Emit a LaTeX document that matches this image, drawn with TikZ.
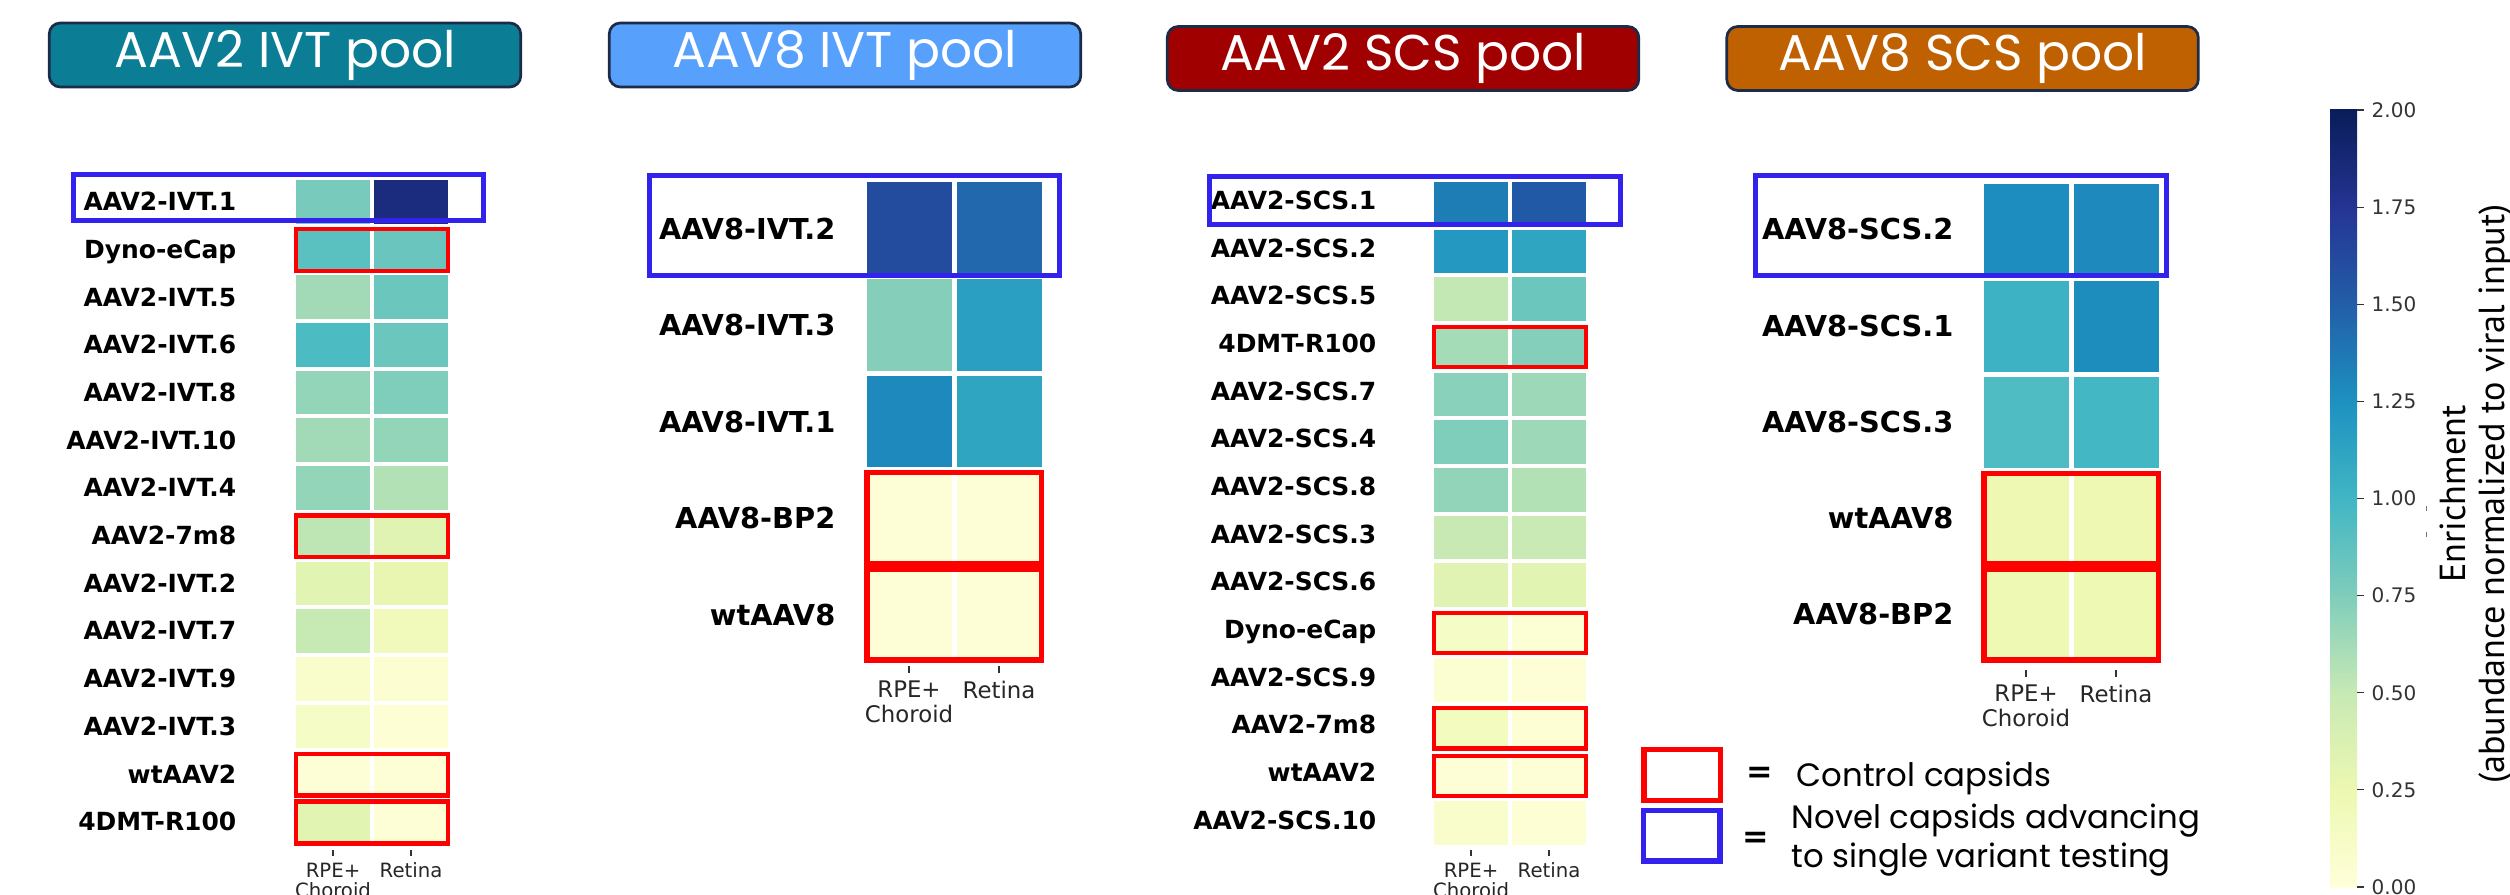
\documentclass[tikz,border=0pt]{standalone}
\usepackage{fontspec}
\newfontfamily\lblfont{DejaVu Sans}
\newfontfamily\titlefont{Poppins}
\newfontfamily\cbfont{PT Sans}

% YlGnBu, 0.00 to 2.00 in eight steps
\definecolor{yl0}{HTML}{FFFFD9}
\definecolor{yl1}{HTML}{EDF8B1}
\definecolor{yl2}{HTML}{C7E9B4}
\definecolor{yl3}{HTML}{7FCDBB}
\definecolor{yl4}{HTML}{41B6C4}
\definecolor{yl5}{HTML}{1D91C0}
\definecolor{yl6}{HTML}{225EA8}
\definecolor{yl7}{HTML}{253494}
\definecolor{yl8}{HTML}{081D58}

\definecolor{poolteal}{HTML}{0B7E95}
\definecolor{poolblue}{HTML}{57A0FB}
\definecolor{poolred}{HTML}{A00000}
\definecolor{poolorange}{HTML}{BF6100}
\definecolor{poolline}{HTML}{1C2B48}
\definecolor{ctrlred}{HTML}{FF0000}
\definecolor{novelblue}{HTML}{3322EE}

% heat colour for an enrichment value
\newcommand{\heatcol}[1]{%
  \pgfmathsetmacro\hv{min(max(#1,0),1.999)*4}%
  \pgfmathtruncatemacro\hlo{floor(\hv)}%
  \pgfmathtruncatemacro\hhi{\hlo+1}%
  \pgfmathtruncatemacro\hpc{round((\hv-\hlo)*100)}%
  \colorlet{heat}{yl\hhi!\hpc!yl\hlo}}

\begin{document}
\begin{tikzpicture}[x=0.1mm, y=-0.1mm,
  pool/.style={draw=poolline, line width=0.27mm, rounded corners=1.1mm,
    minimum width=47.15mm, minimum height=6.4mm, inner sep=0pt,
    text=white, text height=0.7em, text depth=0pt,
    font=\titlefont\fontsize{14.3}{16}\selectfont},
  cellsmall/.style={draw=white, line width=0.4mm},
  cellbig/.style={draw=white, line width=0.5mm},
  ctrlsmall/.style={draw=ctrlred, line width=0.45mm},
  ctrlbig/.style={draw=ctrlred, line width=0.55mm},
  novel/.style={draw=novelblue, line width=0.5mm},
  rowlab/.style={anchor=east, inner sep=0pt, text height=0.73em, text depth=0pt},
  labsmall/.style={rowlab, font=\lblfont\bfseries\fontsize{7.1}{8}\selectfont},
  labbig/.style={rowlab, font=\lblfont\bfseries\fontsize{8.2}{9}\selectfont},
  tickmark/.style={draw=black!80, line width=0.12mm},
  ticklab/.style={anchor=north, align=center, inner sep=0pt, text=black!85},
  ticksmall/.style={ticklab, font=\lblfont\fontsize{5.6}{5.8}\selectfont},
  tickbig/.style={ticklab, font=\lblfont\fontsize{6.5}{7.1}\selectfont},
  keybox/.style={minimum width=7.65mm, minimum height=5.05mm, inner sep=0pt, line width=0.55mm},
  keytext/.style={anchor=west, inner sep=0pt, align=left,
    font=\titlefont\fontsize{9.2}{11.1}\selectfont},
]
\useasboundingbox (0,0) rectangle (2510,895);

% pool headers
\node[pool, fill=poolteal]   (poolA) at (285,55)     {AAV2 IVT pool};
\node[pool, fill=poolblue]   (poolB) at (845,55)     {AAV8 IVT pool};
\node[pool, fill=poolred]    (poolC) at (1403,58.5)  {AAV2 SCS pool};
\node[pool, fill=poolorange] (poolD) at (1962.5,58.5) {AAV8 SCS pool};

% AAV2 IVT pool: 14 rows
\foreach \lab/\va/\vb [count=\rw from 0] in {
    AAV2-IVT.1/0.78/1.84, Dyno-eCap/0.895/0.84, AAV2-IVT.5/0.63/0.83,
    AAV2-IVT.6/0.95/0.83, AAV2-IVT.8/0.68/0.75, AAV2-IVT.10/0.63/0.68,
    AAV2-IVT.4/0.68/0.57, AAV2-7m8/0.53/0.335, AAV2-IVT.2/0.32/0.275,
    AAV2-IVT.7/0.5/0.19, AAV2-IVT.9/0.09/0.045, AAV2-IVT.3/0.12/0.03,
    wtAAV2/0.02/0.025, 4DMT-R100/0.32/0.02}
{
  \pgfmathsetmacro\ytop{178+\rw*47.7}
  \heatcol{\va}
  \filldraw[cellsmall, fill=heat] (294,\ytop) rectangle +(78,47.7);
  \heatcol{\vb}
  \filldraw[cellsmall, fill=heat] (372,\ytop) rectangle +(78,47.7);
  \node[labsmall] (ivt2-\rw) at (237,{\ytop+19.85}) {\lab};
}
\foreach \rw in {1,7,12,13}
  \draw[ctrlsmall] (296.2,{178+\rw*47.7+3.5}) rectangle (447.8,{178+(\rw+1)*47.7-2.5});
\draw[novel] (73,174.5) rectangle (483.5,220.5);
\draw[tickmark] (333,850) -- (333,856) (411,850) -- (411,856);
\node[ticksmall] (ivt2-rpe) at (333,862) {RPE+\\Choroid};
\node[ticksmall] (ivt2-ret) at (411,862) {Retina};

% AAV8 IVT pool: 5 rows
\foreach \lab/\va/\vb [count=\rw from 0] in {
    AAV8-IVT.2/1.61/1.45, AAV8-IVT.3/0.73/1.155, AAV8-IVT.1/1.29/1.115,
    AAV8-BP2/0.02/0.02, wtAAV8/0.02/0.02}
{
  \pgfmathsetmacro\ytop{180+\rw*96.6}
  \heatcol{\va}
  \filldraw[cellbig, fill=heat] (864,\ytop) rectangle +(90,96.6);
  \heatcol{\vb}
  \filldraw[cellbig, fill=heat] (954,\ytop) rectangle +(90,96.6);
  \node[labbig] (ivt8-\rw) at (836,{\ytop+46.3}) {\lab};
}
\foreach \rw in {3,4}
  \draw[ctrlbig] (866.75,{180+\rw*96.6+2.75}) rectangle (1041.25,{180+(\rw+1)*96.6-2.75});
\draw[novel] (649.5,175.5) rectangle (1059.5,275.5);
\draw[tickmark] (909,666) -- (909,673) (999,666) -- (999,673);
\node[tickbig] (ivt8-rpe) at (909,680) {RPE+\\Choroid};
\node[tickbig] (ivt8-ret) at (999,680) {Retina};

% AAV2 SCS pool: 14 rows
\foreach \lab/\va/\vb [count=\rw from 0] in {
    AAV2-SCS.1/1.35/1.53, AAV2-SCS.2/1.2/1.115, AAV2-SCS.5/0.51/0.83,
    4DMT-R100/0.62/0.735, AAV2-SCS.7/0.715/0.645, AAV2-SCS.4/0.75/0.645,
    AAV2-SCS.8/0.685/0.57, AAV2-SCS.3/0.495/0.49, AAV2-SCS.6/0.335/0.32,
    Dyno-eCap/0.12/0.035, AAV2-SCS.9/0.05/0.02, AAV2-7m8/0.16/0.03,
    wtAAV2/0.02/0.025, AAV2-SCS.10/0.08/0.03}
{
  \pgfmathsetmacro\ytop{180+\rw*47.65}
  \heatcol{\va}
  \filldraw[cellsmall, fill=heat] (1432,\ytop) rectangle +(78,47.65);
  \heatcol{\vb}
  \filldraw[cellsmall, fill=heat] (1510,\ytop) rectangle +(78,47.65);
  \node[labsmall] (scs2-\rw) at (1377,{\ytop+16.8}) {\lab};
}
\foreach \rw in {3,9,11,12}
  \draw[ctrlsmall] (1434.2,{180+\rw*47.65+4}) rectangle (1585.8,{180+(\rw+1)*47.65-3.5});
\draw[novel] (1209.5,176.5) rectangle (1620.5,224.5);
\draw[tickmark] (1471,850) -- (1471,856) (1549,850) -- (1549,856);
\node[ticksmall] (scs2-rpe) at (1471,862) {RPE+\\Choroid};
\node[ticksmall] (scs2-ret) at (1549,862) {Retina};

% AAV8 SCS pool: 5 rows
\foreach \lab/\va/\vb [count=\rw from 0] in {
    AAV8-SCS.2/1.275/1.29, AAV8-SCS.1/1.03/1.27, AAV8-SCS.3/0.945/0.99,
    wtAAV8/0.24/0.24, AAV8-BP2/0.23/0.23}
{
  \pgfmathsetmacro\ytop{182+\rw*96.2}
  \heatcol{\va}
  \filldraw[cellbig, fill=heat] (1981,\ytop) rectangle +(90,96.2);
  \heatcol{\vb}
  \filldraw[cellbig, fill=heat] (2071,\ytop) rectangle +(90,96.2);
  \node[labbig] (scs8-\rw) at (1954,{\ytop+45.1}) {\lab};
}
\foreach \rw in {3,4}
  \draw[ctrlbig] (1983.75,{182+\rw*96.2+2.75}) rectangle (2158.25,{182+(\rw+1)*96.2-2.75});
\draw[novel] (1755.5,175.5) rectangle (2166.5,275.5);
\draw[tickmark] (2026,670) -- (2026,677) (2116,670) -- (2116,677);
\node[tickbig] (scs8-rpe) at (2026,684) {RPE+\\Choroid};
\node[tickbig] (scs8-ret) at (2116,684) {Retina};

% legend
\node[keybox, draw=ctrlred]   (keyctrl)  at (1682,775)   {};
\node[keybox, draw=novelblue] (keynovel) at (1681.5,835.5) {};
\node[inner sep=0pt, font=\lblfont\bfseries\fontsize{9}{10}\selectfont] (eqctrl)  at (1759.5,775) {=};
\node[inner sep=0pt, font=\lblfont\bfseries\fontsize{9}{10}\selectfont] (eqnovel) at (1756,840)   {=};
\node[keytext, text height=0.7em, text depth=0pt] (txtctrl) at (1796,774) {Control capsids};
\node[keytext] (txtnovel) at (1791,840) {Novel capsids advancing\\to single variant testing};

% colour bar
\foreach \i in {0,...,7}{
  \pgfmathtruncatemacro\j{\i+1}
  \shade[bottom color=yl\i, top color=yl\j]
    (2330,{887.5-\i*97.125}) rectangle (2357,{886.5-(\i+1)*97.125});
}
\foreach \v in {0.00,0.25,0.50,0.75,1.00,1.25,1.50,1.75,2.00}{
  \draw[tickmark] (2357,{887-\v*388.5}) -- (2364,{887-\v*388.5});
  \node[anchor=west, inner sep=0pt, text=black!80, font=\lblfont\fontsize{5.7}{6}\selectfont]
    at (2371,{887-\v*388.5}) {\v};
}
\draw[black!55, line width=0.1mm] (2426,506) -- (2426,511) (2426,532) -- (2426,537);
\node[rotate=90, align=center, inner sep=0pt, font=\cbfont\fontsize{10.3}{11.2}\selectfont]
  (cblab) at (2476,494) {Enrichment\\(abundance normalized to viral input)};

\end{tikzpicture}
\end{document}
